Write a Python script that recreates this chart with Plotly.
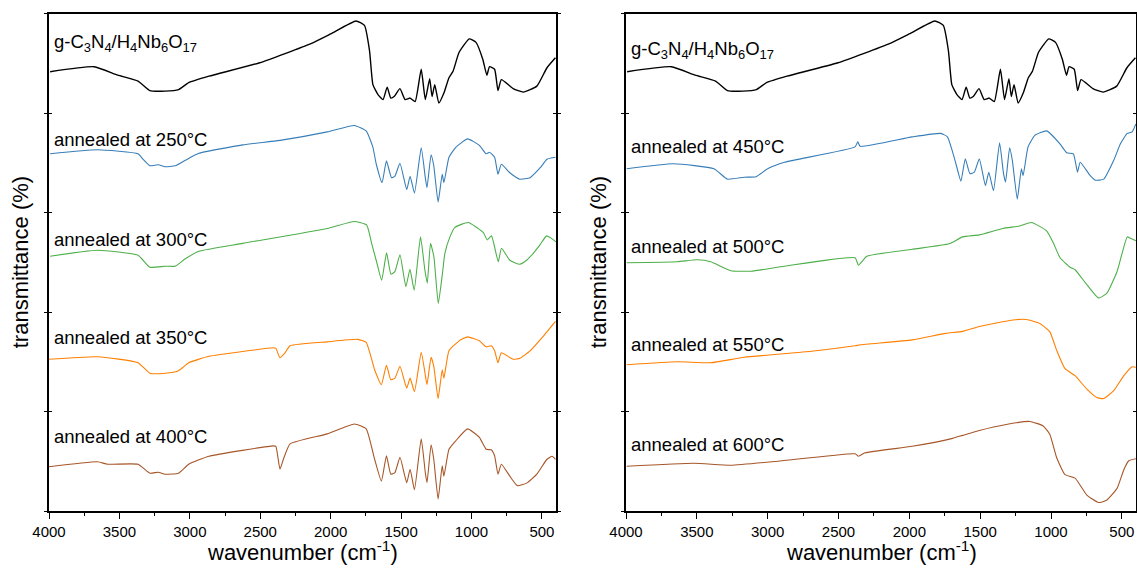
import plotly.graph_objects as go

# ---------------- data (wavenumber cm-1, transmittance in stacked arbitrary units) -------------
wn_g = [3992, 3680, 3512, 3368, 3284, 3176, 3080, 3008, 2864, 2504, 2144, 2000, 1820, 1760, 1724,
        1700, 1664, 1628, 1599, 1573, 1549, 1508, 1472, 1436, 1400, 1357, 1328, 1297, 1280, 1261,
        1232, 1196, 1160, 1131, 1088, 1016, 968, 920, 891, 872, 836, 812, 788, 704, 632, 536, 464, 404]
t_g = [88.3, 89.3, 87.6, 86.4, 84.5, 84.4, 84.7, 86.1, 87.4, 90.1, 93.9, 95.9, 98.5, 97.6, 92.5,
       85.7, 83.7, 82.7, 85.2, 83.0, 83.3, 84.9, 82.7, 83.0, 82.3, 88.8, 82.7, 86.9, 83.3, 85.7,
       82.0, 84.0, 87.1, 88.4, 92.2, 94.9, 94.2, 90.8, 87.6, 89.3, 88.8, 84.5, 86.7, 84.9, 84.2, 85.4, 89.1, 91.1]

wn_250 = [3992, 3656, 3368, 3332, 3284, 3224, 3176, 3104, 3032, 2936, 2624, 2360, 2024, 1832, 1748,
          1700, 1676, 1635, 1604, 1568, 1544, 1508, 1460, 1436, 1405, 1357, 1328, 1316, 1287, 1268,
          1237, 1208, 1196, 1160, 1112, 1028, 944, 896, 872, 836, 812, 788, 728, 656, 584, 512, 464, 404]
t_250 = [71.8, 72.6, 71.8, 70.7, 69.4, 69.6, 69.2, 69.4, 70.5, 71.9, 73.6, 74.5, 76.2, 77.5, 76.4,
         73.1, 69.7, 66.0, 70.4, 67.0, 67.3, 69.9, 64.6, 67.3, 63.9, 73.0, 67.0, 65.0, 71.6, 69.4,
         62.1, 67.7, 66.0, 71.1, 73.1, 74.8, 73.5, 71.8, 72.1, 71.1, 67.7, 69.7, 68.0, 66.7, 67.0, 69.0, 70.7, 71.1]

wn_300 = [3992, 3656, 3368, 3284, 3176, 3104, 3032, 2936, 2624, 2024, 1832, 1745, 1709, 1674, 1638,
          1603, 1572, 1544, 1508, 1466, 1437, 1407, 1362, 1331, 1314, 1291, 1267, 1236, 1206, 1189,
          1153, 1118, 1023, 917, 888, 858, 810, 787, 728, 657, 609, 562, 514, 467, 432, 401]
t_300 = [51.2, 52.4, 51.4, 49.0, 49.2, 49.2, 50.7, 52.2, 53.8, 56.8, 58.2, 57.5, 53.8, 50.1, 46.4,
         51.9, 47.6, 48.1, 51.5, 45.1, 48.6, 44.4, 55.1, 48.4, 45.8, 53.8, 51.1, 41.7, 47.8, 51.8,
         55.1, 57.0, 58.0, 56.0, 54.5, 55.3, 50.1, 52.8, 50.4, 49.6, 50.4, 51.8, 53.5, 55.3, 54.8, 54.1]

wn_350 = [4000, 3656, 3368, 3284, 3176, 3080, 3008, 2864, 2408, 2389, 2360, 2324, 2288, 2024, 1808,
          1748, 1688, 1640, 1604, 1573, 1544, 1508, 1460, 1436, 1405, 1357, 1328, 1316, 1287, 1268,
          1237, 1208, 1196, 1160, 1088, 1028, 944, 896, 860, 836, 812, 788, 704, 656, 584, 488, 404]
t_350 = [30.5, 31.0, 29.8, 27.7, 27.7, 28.2, 29.8, 31.1, 32.8, 32.7, 30.8, 31.8, 33.2, 34.0, 34.5,
         33.9, 28.4, 25.4, 29.3, 26.4, 26.7, 29.1, 24.7, 26.7, 24.0, 31.9, 27.3, 25.4, 30.9, 29.1,
         22.6, 28.4, 26.7, 32.2, 34.2, 35.0, 34.2, 33.0, 33.2, 32.2, 29.8, 31.8, 30.5, 30.7, 32.2, 35.2, 38.1]

wn_400 = [4000, 3656, 3584, 3368, 3284, 3224, 3176, 3080, 3008, 2864, 2408, 2389, 2360, 2336, 2288,
          2024, 1832, 1748, 1688, 1640, 1604, 1573, 1544, 1508, 1460, 1436, 1405, 1357, 1328, 1316,
          1287, 1268, 1237, 1208, 1196, 1160, 1112, 1028, 944, 896, 860, 836, 812, 788, 728, 675,
          608, 536, 464, 428, 404]
t_400 = [8.9, 9.9, 9.4, 9.4, 7.6, 7.8, 7.4, 7.6, 9.4, 11.0, 13.1, 13.0, 8.4, 10.4, 13.5,
         15.5, 17.5, 16.5, 10.4, 6.0, 11.1, 7.4, 7.7, 10.8, 5.7, 8.4, 4.3, 14.5, 7.7, 5.7,
         13.3, 10.4, 2.4, 9.1, 7.0, 12.4, 14.1, 16.5, 14.8, 12.4, 12.3, 11.1, 7.4, 9.4, 7.0, 5.1,
         5.6, 7.4, 10.4, 11.0, 10.4]

wn_450 = [3995, 3663, 3379, 3284, 3165, 3082, 3000, 2881, 2383, 2364, 2347, 1980, 1778, 1731, 1695,
          1671, 1636, 1605, 1572, 1541, 1506, 1463, 1439, 1406, 1363, 1335, 1321, 1292, 1273, 1238,
          1209, 1197, 1162, 1114, 1031, 937, 889, 842, 813, 794, 723, 688, 628, 557, 510, 462, 427, 401]
t_450 = [68.8, 69.8, 68.8, 66.7, 67.1, 67.2, 68.8, 70.1, 73.2, 74.2, 73.3, 75.2, 75.9, 75.2, 72.2,
         69.8, 66.3, 70.8, 67.8, 68.1, 70.8, 65.4, 68.1, 64.4, 74.0, 67.8, 66.1, 73.0, 70.5, 62.7,
         68.8, 67.4, 73.2, 75.5, 76.4, 73.8, 72.0, 71.8, 68.1, 70.1, 67.4, 66.5, 66.7, 70.5, 73.8, 75.9, 76.2, 77.8]

wn_500 = [3995, 3639, 3497, 3402, 3260, 3118, 2881, 2383, 2359, 2300, 1980, 1719, 1624, 1506, 1339,
          1221, 1138, 1031, 984, 936, 865, 830, 747, 664, 605, 533, 462, 438, 401]
t_500 = [49.9, 50.1, 50.5, 50.1, 48.3, 48.2, 49.2, 50.9, 49.4, 51.2, 52.6, 53.7, 55.1, 55.5, 56.8,
         57.3, 58.0, 56.3, 53.9, 50.9, 49.0, 48.5, 45.5, 42.8, 43.8, 48.2, 55.1, 54.8, 54.3]

wn_550 = [3995, 3639, 3402, 3165, 2691, 2383, 2347, 1980, 1743, 1624, 1506, 1268, 1174, 1079, 1008,
          960, 901, 830, 747, 676, 628, 557, 486, 427, 401]
t_550 = [29.4, 30.0, 29.8, 30.9, 32.1, 33.2, 33.4, 34.4, 35.7, 36.1, 37.1, 38.4, 38.5, 37.7, 36.0,
         32.3, 28.6, 27.2, 24.5, 22.8, 22.6, 24.2, 27.2, 29.0, 28.9]

wn_600 = [3995, 3521, 3260, 2928, 2383, 2359, 2312, 1980, 1695, 1624, 1506, 1316, 1150, 1055, 1008,
          960, 901, 830, 747, 664, 605, 533, 486, 451, 401]
t_600 = [9.0, 9.6, 9.2, 10.0, 11.5, 11.0, 11.7, 13.0, 14.6, 15.2, 16.2, 17.4, 18.0, 17.1, 15.4,
         10.7, 7.3, 6.6, 3.2, 1.7, 2.2, 4.6, 8.3, 10.1, 10.5]

x_ticks = [4000, 3500, 3000, 2500, 2000, 1500, 1000, 500]
x_minor = [3750, 3250, 2750, 2250, 1750, 1250, 750]
y_ticks = [0, 20, 40, 60, 80, 100]
label_g = "g-C<sub>3</sub>N<sub>4</sub>/H<sub>4</sub>Nb<sub>6</sub>O<sub>17</sub>"
left_labels = ["annealed at 250°C", "annealed at 300°C", "annealed at 350°C", "annealed at 400°C"]
right_labels = ["annealed at 450°C", "annealed at 500°C", "annealed at 550°C", "annealed at 600°C"]
left_label_y = [94.0, 74.6, 54.5, 34.9, 14.9]
right_label_y = [92.7, 73.2, 53.1, 33.4, 13.3]

C_BLACK = "#000000"
C_BLUE = "#377eb8"
C_GREEN = "#4daf4a"
C_ORANGE = "#ff7f00"
C_BROWN = "#a65628"

FONT = "Liberation Sans, Arial, sans-serif"

fig = go.Figure()

left = [(wn_g, t_g, C_BLACK, 1.4), (wn_250, t_250, C_BLUE, 1.1), (wn_300, t_300, C_GREEN, 1.1),
        (wn_350, t_350, C_ORANGE, 1.1), (wn_400, t_400, C_BROWN, 1.1)]
right = [(wn_g, t_g, C_BLACK, 1.4), (wn_450, t_450, C_BLUE, 1.1), (wn_500, t_500, C_GREEN, 1.1),
         (wn_550, t_550, C_ORANGE, 1.1), (wn_600, t_600, C_BROWN, 1.1)]

for xs, ys, c, w in left:
    fig.add_trace(go.Scatter(x=xs, y=ys, mode="lines", line=dict(color=c, width=w, shape="spline", smoothing=0.45),
                             xaxis="x", yaxis="y", showlegend=False, hoverinfo="skip"))
for xs, ys, c, w in right:
    fig.add_trace(go.Scatter(x=xs, y=ys, mode="lines", line=dict(color=c, width=w, shape="spline", smoothing=0.45),
                             xaxis="x2", yaxis="y2", showlegend=False, hoverinfo="skip"))

W, H = 1137, 569
y_dom = [(569 - 511) / H, (569 - 13.5) / H]

xcommon = dict(range=[4000, 400], tickvals=x_ticks, ticktext=[str(v) for v in x_ticks],
               ticks="outside", ticklen=6, tickwidth=1.3, tickcolor="black",
               showline=True, linecolor="black", linewidth=1.5, mirror=True,
               showgrid=False, zeroline=False, automargin=False,
               tickfont=dict(family=FONT, size=15, color="black"),
               minor=dict(tickvals=x_minor, ticks="outside",
                          ticklen=3, tickwidth=1.3, tickcolor="black", showgrid=False))
ycommon = dict(range=[0, 100], tickvals=y_ticks, showticklabels=False,
               ticklen=3, tickwidth=1.3, tickcolor="black",
               showline=True, linecolor="black", linewidth=1.5, mirror="ticks",
               showgrid=False, zeroline=False, automargin=False)

fig.update_layout(
    width=W, height=H, margin=dict(l=0, r=0, t=0, b=0),
    paper_bgcolor="white", plot_bgcolor="white",
    xaxis=dict(domain=[49 / W, 556 / W], anchor="y", **xcommon),
    yaxis=dict(domain=y_dom, anchor="x", ticks="outside", **ycommon),
    xaxis2=dict(domain=[626 / W, 1136 / W], anchor="y2", **xcommon),
    yaxis2=dict(domain=y_dom, anchor="x2", ticks="outside", **ycommon),
    # overlay axes give the inward half of the cross-style y ticks
    yaxis3=dict(domain=y_dom, anchor="x", overlaying="y", ticks="inside", **ycommon),
    yaxis4=dict(domain=y_dom, anchor="x2", overlaying="y2", ticks="inside", **ycommon),
    font=dict(family=FONT, color="black"),
)
# invisible traces so that the overlay axes are drawn
fig.add_trace(go.Scatter(x=[4000], y=[0], mode="markers", marker=dict(opacity=0), xaxis="x", yaxis="y3",
                         showlegend=False, hoverinfo="skip"))
fig.add_trace(go.Scatter(x=[4000], y=[0], mode="markers", marker=dict(opacity=0), xaxis="x2", yaxis="y4",
                         showlegend=False, hoverinfo="skip"))

ann = []
for i, txt in enumerate([label_g] + left_labels):
    ann.append(dict(text=txt, x=0.006, xref="x domain", y=left_label_y[i], yref="y",
                    xanchor="left", yanchor="middle", showarrow=False,
                    font=dict(family=FONT, size=18.5, color="black")))
for i, txt in enumerate([label_g] + right_labels):
    ann.append(dict(text=txt, x=0.006, xref="x2 domain", y=right_label_y[i], yref="y2",
                    xanchor="left", yanchor="middle", showarrow=False,
                    font=dict(family=FONT, size=18.5, color="black")))
for xr in ["x domain", "x2 domain"]:
    ann.append(dict(text="wavenumber (cm<sup>-1</sup>)", x=0.5, xref=xr, y=(569 - 551) / H, yref="paper",
                    xanchor="center", yanchor="middle", showarrow=False,
                    font=dict(family=FONT, size=22, color="black")))
for xp in [20 / W, 598 / W]:
    ann.append(dict(text="transmittance (%)", x=xp, xref="paper", y=0.5 * (y_dom[0] + y_dom[1]), yref="paper",
                    xanchor="center", yanchor="middle", textangle=-90, showarrow=False,
                    font=dict(family=FONT, size=22, color="black")))
fig.update_layout(annotations=ann)

fig.write_html("out.html")
